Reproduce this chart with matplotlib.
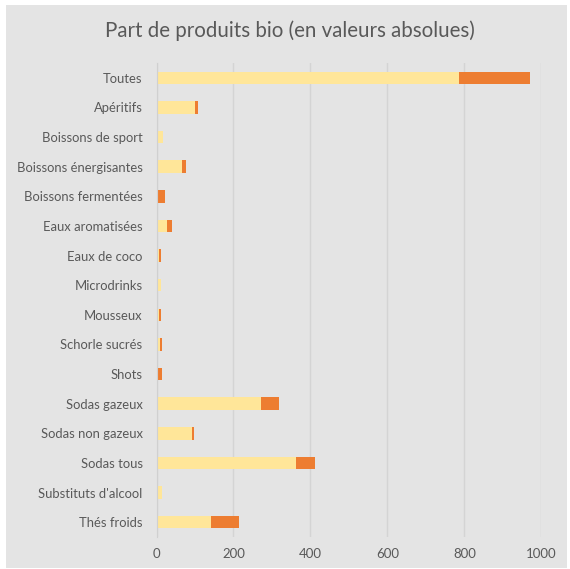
import matplotlib
matplotlib.use("Agg")
import matplotlib.pyplot as plt
import matplotlib.patches as patches

plt.rcParams['font.family'] = ['Lato', 'DejaVu Sans']

# Catégories et valeurs (non bio / bio)
categories = [
    "Toutes", "Apéritifs", "Boissons de sport", "Boissons énergisantes",
    "Boissons fermentées", "Eaux aromatisées", "Eaux de coco", "Microdrinks",
    "Mousseux", "Schorle sucrés", "Shots", "Sodas gazeux", "Sodas non gazeux",
    "Sodas tous", "Substituts d'alcool", "Thés froids",
]
non_bio = [786, 100, 17, 67, 4, 26, 6, 12, 6, 9, 4, 271, 92, 363, 14, 141]
bio = [184, 9, 0, 9, 18, 13, 6, 0, 6, 5, 10, 47, 5, 50, 0, 74]
xticks = [0, 200, 400, 600, 800, 1000]

fond = '#E4E4E4'
gris_texte = '#595959'

fig = plt.figure(figsize=(5.70, 5.69), dpi=100)
fig.patch.set_facecolor('white')
# cadre gris du graphique
fig.patches.append(patches.Rectangle((6 / 570, 1 / 569), 561 / 570, 563 / 569,
                                     transform=fig.transFigure, facecolor=fond,
                                     edgecolor='none', zorder=-5))

ax = fig.add_axes([156.5 / 570, 1 - 537 / 569, (541.3 - 156.5) / 570, (537 - 63) / 569])
ax.set_facecolor(fond)

y = list(range(len(categories)))
ax.barh(y, non_bio, height=0.42, color='#FFE699', zorder=3)
ax.barh(y, bio, left=non_bio, height=0.42, color='#ED7D31', zorder=3)

ax.set_ylim(len(categories) - 0.5, -0.5)
ax.set_xlim(0, 1000)
ax.set_yticks(y)
ax.set_yticklabels(categories, fontsize=9.4, color=gris_texte)
ax.set_xticks(xticks)
ax.set_xticklabels([str(t) for t in xticks], fontsize=9.5, color=gris_texte)
ax.tick_params(length=0, pad=8)
ax.tick_params(axis='y', pad=10)

ax.grid(axis='x', color='#D4D4D4', linewidth=1, zorder=0)
for side in ['top', 'right', 'bottom']:
    ax.spines[side].set_visible(False)
ax.spines['left'].set_color('#D0D0D0')
ax.spines['left'].set_zorder(4)

fig.text(290 / 570, 1 - 31 / 569, "Part de produits bio (en valeurs absolues)",
         ha='center', va='center', fontsize=14.8, color=gris_texte)

fig.savefig("out.png", dpi=100, facecolor=fig.get_facecolor())
